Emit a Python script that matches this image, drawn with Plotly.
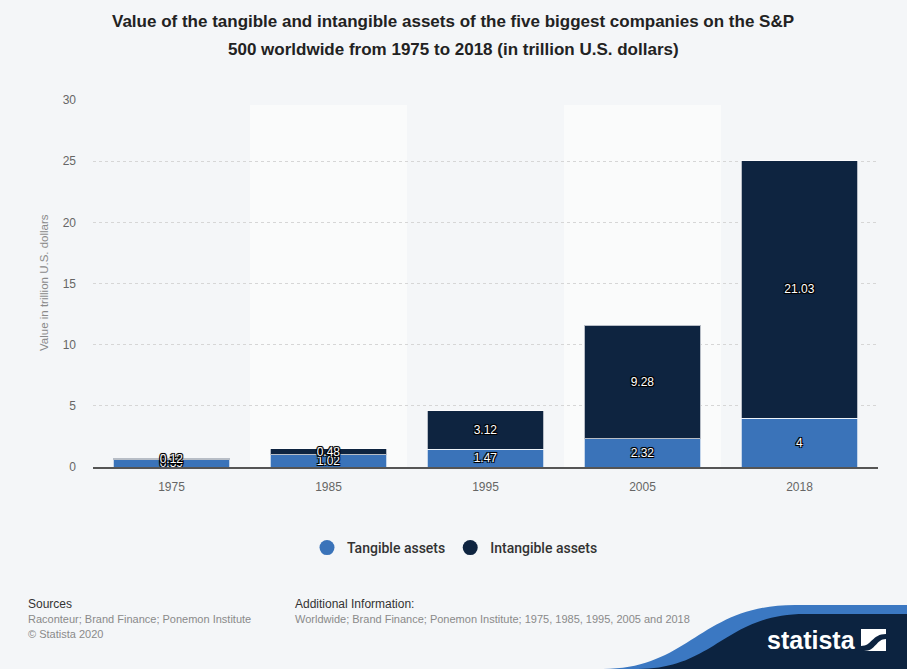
import plotly.graph_objects as go

years = ["1975", "1985", "1995", "2005", "2018"]
tangible = [0.59, 1.02, 1.47, 2.32, 4]
intangible = [0.12, 0.48, 3.12, 9.28, 21.03]
y_ticks = [0, 5, 10, 15, 20, 25, 30]

BG = "#f4f6f8"
BAND = "#fafbfb"
BLUE = "#3a73b9"
NAVY = "#0e2440"

# plot area in pixels
PX0, PW, PY0, PH = 93, 785, 467, 367
def px(x):
    return (x - PX0) / PW
def py(y):
    return (PY0 - y) / PH

fig = go.Figure()
shadow = ("1px 1px 0px #000, -1px -1px 0px #000, 1px -1px 0px #000, -1px 1px 0px #000, "
          "0px 0px 2px #000")
for name, vals, col in [("Tangible assets", tangible, BLUE), ("Intangible assets", intangible, NAVY)]:
    fig.add_trace(go.Bar(
        x=years, y=vals, name=name, marker_color=col,
        marker_line=dict(color="rgba(255,255,255,0.7)", width=1),
        texttemplate="%{y}", textposition="inside", insidetextanchor="middle",
        textangle=0, constraintext="none",
        textfont=dict(color="white", size=12, family="Liberation Sans", shadow=shadow),
        showlegend=False, hoverinfo="skip"))

# legend entries with circle markers
for name, col in [("Tangible assets", BLUE), ("Intangible assets", NAVY)]:
    fig.add_trace(go.Scatter(x=[None], y=[None], mode="markers", name=name,
                             marker=dict(size=15, color=col, symbol="circle")))

shapes = []
for i in (1, 3):
    shapes.append(dict(type="rect", xref="x", yref="y", x0=i - 0.5, x1=i + 0.5,
                       y0=0, y1=29.6, fillcolor=BAND, line_width=0, layer="below"))

blue_path = (f"M {px(603)},{py(669)} C {px(690)},{py(669)} {px(700)},{py(605)} {px(795)},{py(605)} "
             f"L {px(907)},{py(605)} L {px(907)},{py(669)} Z")
navy_path = (f"M {px(638)},{py(669)} C {px(715)},{py(669)} {px(725)},{py(614)} {px(805)},{py(614)} "
             f"L {px(907)},{py(614)} L {px(907)},{py(669)} Z")
shapes.append(dict(type="path", xref="paper", yref="paper", path=blue_path,
                   fillcolor="#3b78c2", line_width=0, layer="above"))
shapes.append(dict(type="path", xref="paper", yref="paper", path=navy_path,
                   fillcolor="#0c2340", line_width=0, layer="above"))
# icon
shapes.append(dict(type="rect", xref="paper", yref="paper", x0=px(861), x1=px(886),
                   y0=py(651), y1=py(629), fillcolor="white", line_width=0))
icon_path = (f"M {px(861)},{py(646)} C {px(872)},{py(646)} {px(872)},{py(634)} {px(886)},{py(634)} "
             f"L {px(886)},{py(639)} C {px(876)},{py(639)} {px(876)},{py(651)} {px(864)},{py(651)} "
             f"L {px(861)},{py(651)} Z")
shapes.append(dict(type="path", xref="paper", yref="paper", path=icon_path,
                   fillcolor="#0c2340", line_width=0))

TF = "Liberation Sans"
ann = []
ann.append(dict(text="<b>Value of the tangible and intangible assets of the five biggest companies on the S&P</b>",
                x=px(453), y=py(22), xref="paper", yref="paper", showarrow=False,
                xanchor="center", yanchor="middle", font=dict(family=TF, size=17, color="#222")))
ann.append(dict(text="<b>500 worldwide from 1975 to 2018 (in trillion U.S. dollars)</b>",
                x=px(453), y=py(50), xref="paper", yref="paper", showarrow=False,
                xanchor="center", yanchor="middle", font=dict(family=TF, size=17, color="#222")))
ann.append(dict(text="Value in trillion U.S. dollars", textangle=-90,
                x=px(44), y=py(283), xref="paper", yref="paper", showarrow=False,
                xanchor="center", yanchor="middle", font=dict(family=TF, size=11.5, color="#8a8a8a")))
ann.append(dict(text="Sources", x=px(26), y=py(604), xref="paper", yref="paper", showarrow=False,
                xanchor="left", yanchor="middle", font=dict(family=TF, size=12, color="#333")))
ann.append(dict(text="Raconteur; Brand Finance; Ponemon Institute", x=px(26), y=py(619),
                xref="paper", yref="paper", showarrow=False,
                xanchor="left", yanchor="middle", font=dict(family=TF, size=11, color="#8a8a8a")))
ann.append(dict(text="© Statista 2020", x=px(26), y=py(634),
                xref="paper", yref="paper", showarrow=False,
                xanchor="left", yanchor="middle", font=dict(family=TF, size=11, color="#8a8a8a")))
ann.append(dict(text="Additional Information:", x=px(293), y=py(604), xref="paper", yref="paper",
                showarrow=False, xanchor="left", yanchor="middle",
                font=dict(family=TF, size=12, color="#333")))
ann.append(dict(text="Worldwide; Brand Finance; Ponemon Institute; 1975, 1985, 1995, 2005 and 2018",
                x=px(293), y=py(619), xref="paper", yref="paper", showarrow=False,
                xanchor="left", yanchor="middle", font=dict(family=TF, size=11, color="#8a8a8a")))
ann.append(dict(text="<b>statista</b>", x=px(811), y=py(640), xref="paper", yref="paper",
                showarrow=False, xanchor="center", yanchor="middle",
                font=dict(family=TF, size=25, color="white")))

fig.update_layout(
    width=907, height=669,
    margin=dict(l=PX0, r=907 - PX0 - PW, t=PY0 - PH, b=669 - PY0, autoexpand=False),
    paper_bgcolor=BG, plot_bgcolor=BG,
    barmode="stack", bargap=0.26,
    uniformtext=dict(minsize=12, mode="show"),
    showlegend=True,
    legend=dict(orientation="h", x=px(455), xanchor="center", y=py(548), yanchor="middle",
                traceorder="normal",
                font=dict(family="Roboto", size=14, color="#333", weight=500),
                bgcolor="rgba(0,0,0,0)", itemclick=False),
    shapes=shapes, annotations=ann,
    xaxis=dict(type="category", showline=True, linecolor="#555", linewidth=2,
               showgrid=False, ticks="", tickfont=dict(family=TF, size=12, color="#666"),
               ticklabelstandoff=8, fixedrange=True),
    yaxis=dict(range=[0, 30], tickvals=y_ticks, showgrid=True, gridcolor="#d6d6d6",
               griddash="dot", gridwidth=1, zeroline=False, showline=False, ticks="",
               tickfont=dict(family=TF, size=12, color="#666"), ticklabelstandoff=16,
               fixedrange=True),
)

fig.write_html("out.html")
